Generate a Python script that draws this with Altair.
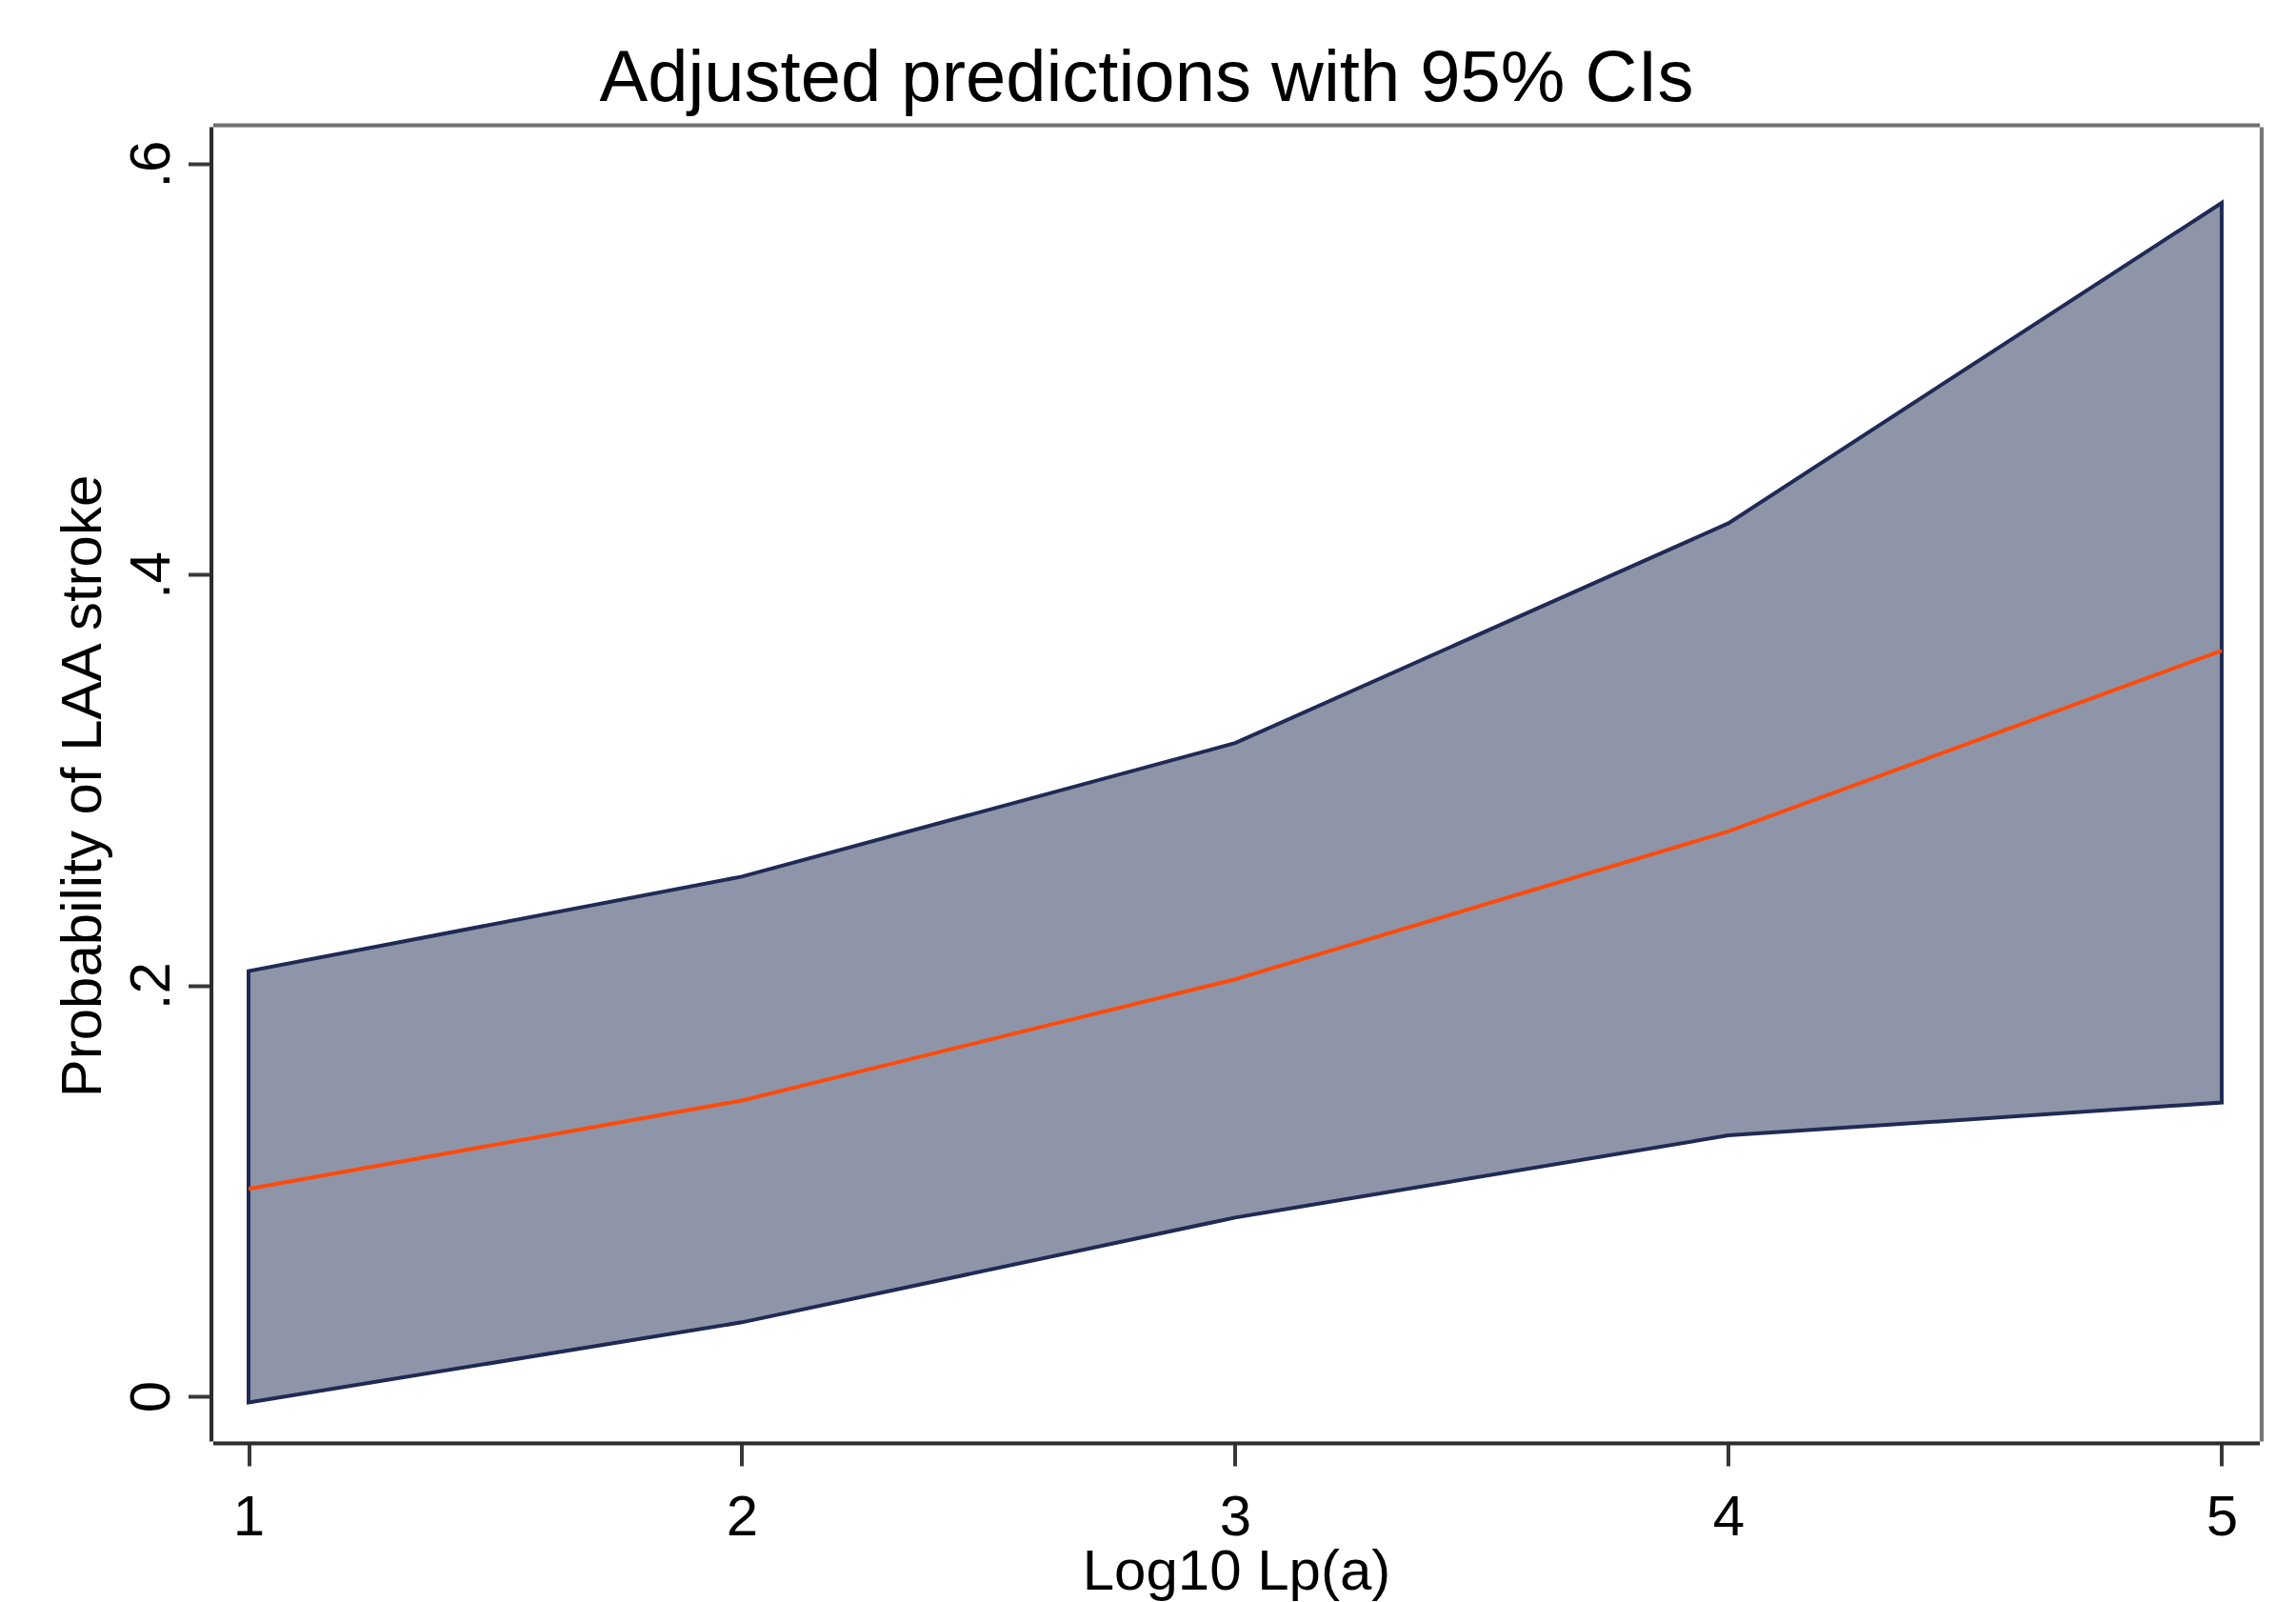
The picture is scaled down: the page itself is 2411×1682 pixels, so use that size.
import altair as alt
import pandas as pd

# Data
log10_lpa = [1, 2, 3, 4, 5]
prediction = [0.101, 0.144, 0.203, 0.275, 0.363]
ci_lower = [-0.003, 0.036, 0.087, 0.127, 0.143]
ci_upper = [0.207, 0.253, 0.318, 0.425, 0.581]

y_ticks = [0, 0.2, 0.4, 0.6]
x_ticks = [1, 2, 3, 4, 5]

df = pd.DataFrame({"x": log10_lpa, "pred": prediction, "lo": ci_lower, "hi": ci_upper})

FONT = "Liberation Sans"

x_scale = alt.Scale(domain=[0.9276, 5.0763], nice=False, zero=False)
y_scale = alt.Scale(domain=[-0.0218, 0.6181], nice=False, zero=False)

x_axis = alt.Axis(
    values=x_ticks, format="d", title="Log10 Lp(a)", grid=False, offset=2,
    domainColor="#2c2c2c", domainWidth=4,
    tickColor="#383838", tickWidth=4, tickSize=24,
    labelFont=FONT, labelFontSize=60, labelColor="black",
    labelBaseline="alphabetic", labelPadding=72, labelFlush=False,
    titleFont=FONT, titleFontSize=60, titleFontWeight="normal", titleColor="black",
    titleBaseline="alphabetic", titleAnchor="middle", titleY=153,
)
y_axis = alt.Axis(
    values=y_ticks, title="Probability of LAA stroke", grid=False, offset=2,
    domainColor="#2c2c2c", domainWidth=4,
    tickColor="#383838", tickWidth=4, tickSize=24,
    labelFont=FONT, labelFontSize=60, labelColor="black",
    labelAngle=270, labelAlign="center", labelBaseline="alphabetic", labelPadding=20,
    labelFlush=False,
    labelExpr="datum.value == 0 ? '0' : '.' + format(datum.value * 10, 'd')",
    titleFont=FONT, titleFontSize=60, titleFontWeight="normal", titleColor="black",
    titleAngle=270, titleAlign="center", titleBaseline="alphabetic",
    titleX=-116, titleY=692,
)
# plain frame edges on the top and right
x_top = alt.Axis(orient="top", offset=2, labels=False, ticks=False, grid=False,
                 domainColor="#707070", domainWidth=4, title=None)
y_right = alt.Axis(orient="right", offset=2, labels=False, ticks=False, grid=False,
                   domainColor="#767676", domainWidth=4, title=None)

base = alt.Chart(df)

band = base.mark_area(
    fill="#8f95a8", stroke="#1f2b55", strokeWidth=4, opacity=1
).encode(
    x=alt.X("x:Q", scale=x_scale, axis=x_axis),
    y=alt.Y("lo:Q", scale=y_scale, axis=y_axis),
    y2="hi:Q",
)

line = base.mark_line(color="#ff4a0a", strokeWidth=4).encode(
    x=alt.X("x:Q", scale=x_scale, axis=x_top),
    y=alt.Y("pred:Q", scale=y_scale, axis=y_right),
)

chart = (band + line).resolve_axis(x="independent", y="independent").properties(
    width=2149,
    height=1380,
    autosize=alt.AutoSizeParams(type="none"),
    padding={"left": 215.5, "top": 125, "right": 30, "bottom": 168},
    title=alt.TitleParams(
        "Adjusted predictions with 95% CIs",
        font=FONT, fontSize=76, fontWeight="normal", color="black",
        anchor="middle", baseline="alphabetic", offset=-51, dx=-94,
    ),
).configure_view(stroke="#a4a4a4", strokeWidth=8).configure(background="white")

chart.save("out.html", embed_options={"renderer": "svg", "actions": False})
